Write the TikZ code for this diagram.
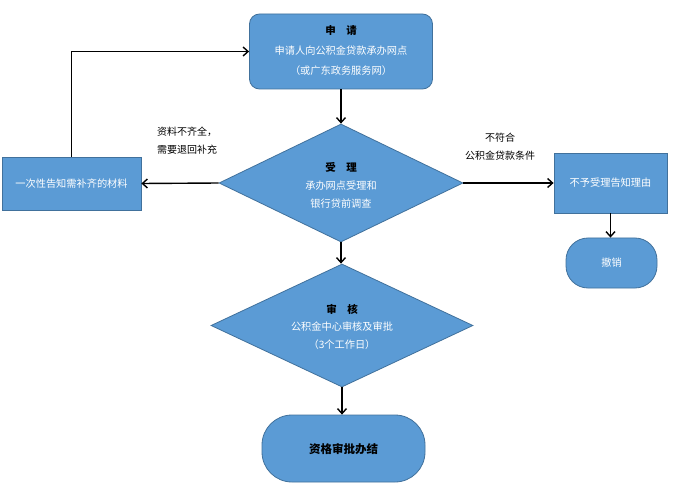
\documentclass[tikz,border=0pt]{standalone}
\usepackage{fontspec}
\setmainfont{Noto Sans CJK SC}
\usetikzlibrary{shapes.geometric,arrows.meta}
\definecolor{boxfill}{HTML}{5B9BD5}
\definecolor{boxline}{HTML}{41719C}
\begin{document}
\begin{tikzpicture}[x=1pt,y=-1pt,
  blk/.style={draw=boxline, fill=boxfill, line width=0.8pt, inner sep=0pt},
  ttl/.style={font=\fontsize{10.5}{12}\selectfont\bfseries, text=black, inner sep=0pt},
  wtx/.style={font=\fontsize{10.2}{12}\selectfont, text=white, inner sep=0pt},
  lbl/.style={font=\fontsize{10}{18}\selectfont, text=black, inner sep=0pt, align=left},
  arr/.style={-{Straight Barb[length=5pt,width=9pt]}, line width=1.4pt}]
\useasboundingbox (0,0) rectangle (697,500);
\fill[white] (0,0) rectangle (697,500);
% shapes
\node[blk, rounded corners=10pt, minimum width=183pt, minimum height=75pt] (apply) at (341,51.5) {};
\node[blk, diamond, minimum width=244pt, minimum height=118pt] (accept) at (341,183) {};
\node[blk, diamond, minimum width=262pt, minimum height=123pt] (review) at (342,325.5) {};
\node[blk, rounded corners=30pt, minimum width=163pt, minimum height=67pt] (done) at (343.5,448.5) {};
\node[blk, minimum width=139pt, minimum height=53pt] (left) at (71.5,183.5) {};
\node[blk, minimum width=113pt, minimum height=60pt] (reject) at (610.5,183) {};
\node[blk, rounded corners=22pt, minimum width=91pt, minimum height=50pt] (cancel) at (611.5,263) {};
% texts
\node[ttl] (applyt) at (341,31) {申\quad 请};
\node[wtx] (apply1) at (341,51) {申请人向公积金贷款承办网点};
\node[wtx] (apply2) at (341,71) {（或广东政务服务网）};
\node[ttl] (acceptt) at (341,167) {受\quad 理};
\node[wtx] (accept1) at (341,185.5) {承办网点受理和};
\node[wtx] (accept2) at (341,204) {银行贷前调查};
\node[ttl] (reviewt) at (342,309) {审\quad 核};
\node[wtx] (review1) at (342,327) {公积金中心审核及审批};
\node[wtx] (review2) at (342,345) {（3个工作日）};
\node[ttl, font=\fontsize{11.5}{12}\selectfont\bfseries] (donet) at (343.5,449) {资格审批办结};
\node[wtx] (leftt) at (71.5,183.5) {一次性告知需补齐的材料};
\node[wtx] (rejectt) at (610.5,183) {不予受理告知理由};
\node[wtx] (cancelt) at (611.5,263) {撤销};
% labels
\node[lbl, anchor=west] (lblL) at (157,140.5) {资料不齐全，\\需要退回补充};
\node[lbl, align=center] (lblR) at (500,146.5) {不符合\\公积金贷款条件};
% connectors
\draw[arr] (apply.south) -- (accept.north);
\draw[arr] (accept.south) -- (accept.south |- review.north);
\draw[arr] (review.south) -- (review.south |- done.north);
\draw[arr] (accept.west) -- (left.east);
\draw[arr] (left.north) |- (apply.west);
\draw[arr] (accept.east) -- (reject.west);
\draw[arr] (reject.south) -- (reject.south |- cancel.north);
\end{tikzpicture}
\end{document}
